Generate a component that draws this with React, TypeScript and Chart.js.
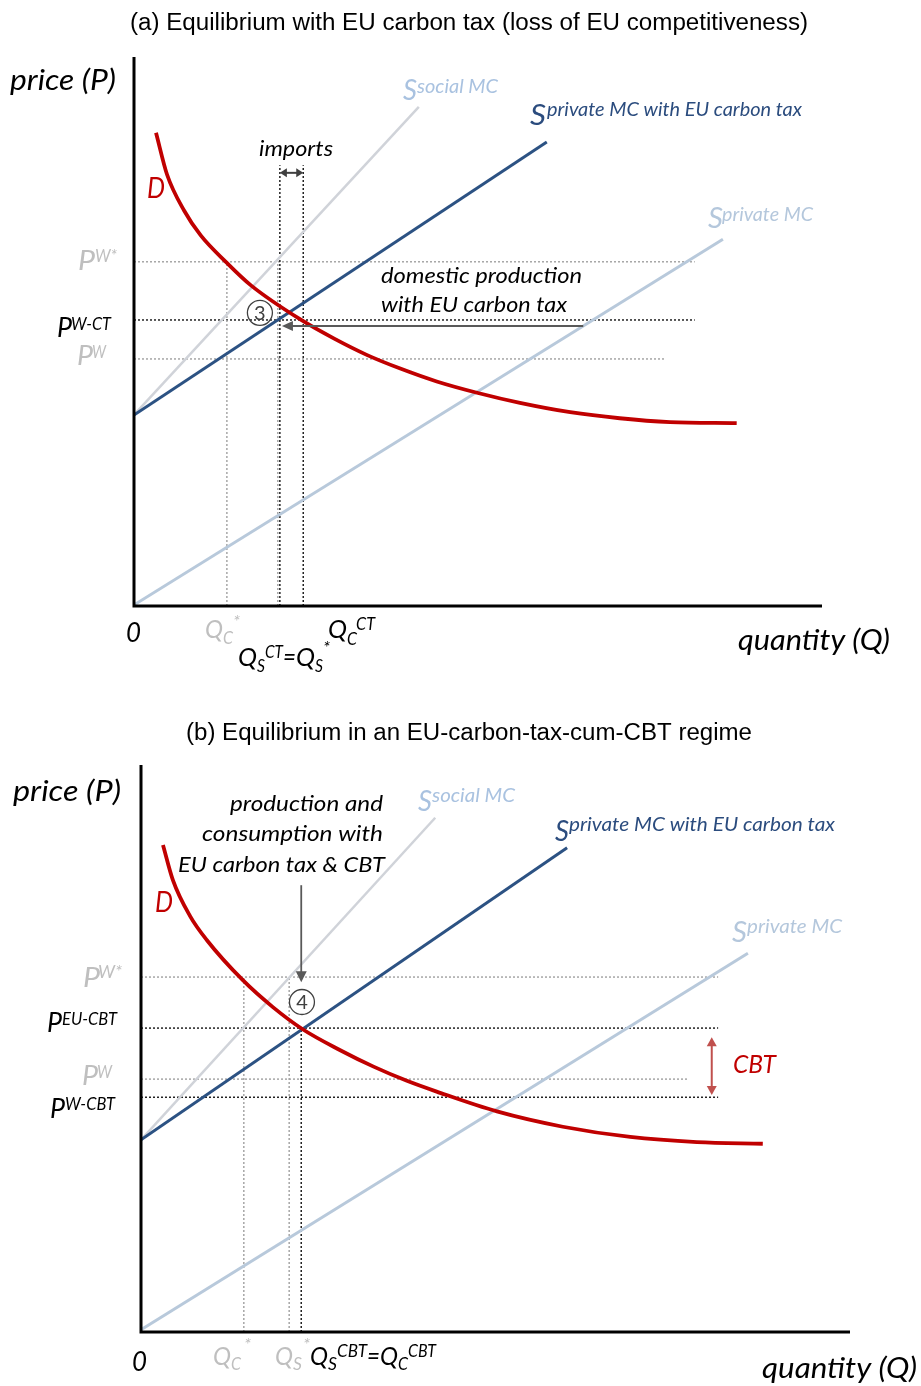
import React, { useEffect, useRef } from "react";
import { Chart, registerables } from "chart.js";
Chart.register(...registerables);

// ---------------- Panel (a) data ----------------
const qSocialA = [0, 41.4];
const pSocialA = [34.8, 90.9];
const qTaxA = [0, 60.0];
const pTaxA = [34.8, 84.5];
const qPrivA = [0, 85.6];
const pPrivA = [0.2, 66.8];
const qDemandA = [3.2, 4.8, 7.3, 9.7, 13.5, 17.0, 24.3, 29.1, 33.9, 38.8, 44.0, 50.0, 56.1, 63.4, 70.6, 77.9, 87.6];
const pDemandA = [86.2, 78.6, 72.0, 67.5, 62.5, 58.4, 52.1, 48.7, 45.7, 43.2, 40.9, 38.8, 37.0, 35.3, 34.2, 33.5, 33.3];
const priceNamesA = ["PW*", "PW-CT", "PW"];
const priceLevelsA = [62.7, 52.1, 45.0];
const priceEndsA = [81.5, 81.5, 77.2];
const qtyNamesA = ["QC*", "QS*", "QS_CT", "QC_CT"];
const qtyLevelsA = [13.5, 20.9, 21.2, 24.6];
const qtyTopsA = [62.7, 62.7, 80.3, 80.3];
const importsLevelA = 78.9;
const domesticArrowA = [65.3, 21.5, 51.0]; // from q, to q, at p
const eqPointA = [18.3, 53.4];

// ---------------- Panel (b) data ----------------
const qSocialB = [0, 41.5];
const pSocialB = [33.9, 90.7];
const qTaxB = [0, 60.1];
const pTaxB = [33.9, 85.4];
const qPrivB = [0, 85.6];
const pPrivB = [0.4, 66.8];
const qDemandB = [3.1, 4.5, 6.9, 9.3, 14.4, 18.6, 22.8, 28.1, 32.8, 37.5, 41.7, 50.2, 59.5, 69.0, 78.4, 87.7];
const pDemandB = [85.9, 79.7, 73.4, 69.1, 62.0, 57.3, 53.4, 49.7, 46.8, 44.3, 42.4, 38.9, 36.2, 34.4, 33.5, 33.2];
const priceNamesB = ["PW*", "PEU-CBT", "PW", "PW-CBT"];
const priceLevelsB = [62.6, 53.6, 44.6, 41.4];
const priceEndsB = [81.4, 81.4, 77.2, 81.4];
const qtyNamesB = ["QC*", "QS*", "Q_CBT"];
const qtyLevelsB = [14.5, 20.9, 22.6];
const qtyTopsB = [62.6, 62.6, 53.6];
const prodArrowB = [22.6, 78.8, 61.7]; // at q, from p, to p
const cbtArrowB = [80.5, 52.0, 41.8]; // at q, from p, to p
const eqPointB = [22.7, 58.2];

// ---------------- styles ----------------
const RED = "#c00000";
const DARK = "#2c5283";
const DARK_TXT = "#2b4c7e";
const SOCIAL_LINE = "#d0d3d9";
const SOCIAL_TXT = "#a9c2e0";
const PRIV_LINE = "#b8c9db";
const PRIV_TXT = "#b4c7dc";
const GRAY_TXT = "#bfbfbf";
const DOT_GRAY = "#a6a6a6";
const DOT_BLACK = "#222222";
const ARROW = "#595959";
const ITAL = '"Lato", "Open Sans", sans-serif';
const SANS = '"Liberation Sans", Arial, sans-serif';

const darkPriceA = [false, true, false];
const darkQtyA = [false, false, true, true];
const darkPriceB = [false, true, false, true];
const darkQtyB = [false, false, true];

type T = [string, number, number, number, string, number?, boolean?, string?];
// text, x, baseline y (page coords), size, color, width, italic(default true), family

const textsA: T[] = [
  ["(a) Equilibrium with EU carbon tax (loss of EU competitiveness)", 130, 30, 23, "#000", 678, false, SANS],
  ["price (P)", 10, 90, 29, "#000", 106],
  ["D", 147, 198, 28, RED, 18],
  ["S", 403, 100, 28, SOCIAL_TXT, 14],
  ["social MC", 417, 93, 20, SOCIAL_TXT, 81],
  ["S", 530, 125, 28, DARK_TXT, 16],
  ["private MC with EU carbon tax", 547, 116, 20, DARK_TXT, 255],
  ["S", 708, 228, 28, PRIV_TXT, 15],
  ["private MC", 722, 221, 20, PRIV_TXT, 91],
  ["imports", 259, 156, 21, "#000", 74],
  ["domestic production", 381, 283, 21, "#000", 201],
  ["with EU carbon tax", 381, 312, 21, "#000", 186],
  ["P", 78, 270, 27, GRAY_TXT, 17],
  ["W*", 95, 262, 17, GRAY_TXT, 22],
  ["P", 57, 337, 27, "#000", 15],
  ["W-CT", 71, 330, 17, "#000", 40],
  ["P", 77, 365, 27, GRAY_TXT, 16],
  ["W", 92, 358, 17, GRAY_TXT, 14],
  ["0", 126, 642, 27, "#000", 15],
  ["Q", 205, 638, 26, GRAY_TXT, 18],
  ["C", 223, 644, 17, GRAY_TXT, 10],
  ["*", 233, 628, 17, GRAY_TXT, 7],
  ["Q", 328, 638, 26, "#000", 19],
  ["C", 347, 645, 17, "#000", 10],
  ["CT", 356, 630, 17, "#000", 19],
  ["Q", 238, 666, 26, "#000", 19],
  ["S", 257, 672, 17, "#000", 8],
  ["CT", 265, 658, 17, "#000", 18],
  ["=", 283, 666, 26, "#000", 13],
  ["Q", 296, 666, 26, "#000", 19],
  ["S", 315, 672, 17, "#000", 8],
  ["*", 323, 654, 17, "#000", 7],
  ["quantity (Q)", 738, 650, 28, "#000", 152],
];

const textsB: T[] = [
  ["(b) Equilibrium in an EU-carbon-tax-cum-CBT regime", 186, 740, 23, "#000", 566, false, SANS],
  ["price (P)", 13, 801, 29, "#000", 108],
  ["production and", 230, 811, 21, "#000", 153],
  ["consumption with", 202, 841, 21, "#000", 181],
  ["EU carbon tax & CBT", 178, 872, 21, "#000", 207],
  ["D", 155, 912, 28, RED, 18],
  ["S", 418, 811, 28, SOCIAL_TXT, 14],
  ["social MC", 432, 802, 20, SOCIAL_TXT, 83],
  ["S", 555, 841, 28, DARK_TXT, 14],
  ["private MC with EU carbon tax", 569, 831, 20, DARK_TXT, 266],
  ["S", 732, 942, 28, PRIV_TXT, 15],
  ["private MC", 747, 933, 20, PRIV_TXT, 95],
  ["CBT", 733, 1073, 26, RED, 43],
  ["P", 83, 987, 27, GRAY_TXT, 17],
  ["W*", 98, 978, 17, GRAY_TXT, 24],
  ["P", 47, 1032, 27, "#000", 15],
  ["EU-CBT", 62, 1025, 17, "#000", 55],
  ["P", 82, 1085, 27, GRAY_TXT, 16],
  ["W", 97, 1078, 17, GRAY_TXT, 15],
  ["P", 50, 1118, 27, "#000", 15],
  ["W-CBT", 65, 1110, 17, "#000", 50],
  ["0", 132, 1371, 27, "#000", 15],
  ["Q", 213, 1365, 26, GRAY_TXT, 18],
  ["C", 231, 1370, 17, GRAY_TXT, 10],
  ["*", 244, 1351, 17, GRAY_TXT, 7],
  ["Q", 275, 1365, 26, GRAY_TXT, 18],
  ["S", 293, 1370, 17, GRAY_TXT, 9],
  ["*", 303, 1351, 17, GRAY_TXT, 7],
  ["Q", 310, 1365, 26, "#000", 18],
  ["S", 328, 1370, 17, "#000", 9],
  ["CBT", 337, 1357, 17, "#000", 30],
  ["=", 367, 1365, 26, "#000", 13],
  ["Q", 380, 1365, 26, "#000", 18],
  ["C", 398, 1370, 17, "#000", 10],
  ["CBT", 408, 1357, 17, "#000", 28],
  ["quantity (Q)", 762, 1378, 28, "#000", 155],
];

function pts(xs: number[], ys: number[]) {
  return xs.map((x, i) => ({ x, y: ys[i] }));
}

function lineDs(xs: number[], ys: number[], color: string, width: number, order: number, extra: any = {}) {
  return {
    data: pts(xs, ys),
    showLine: true,
    borderColor: color,
    backgroundColor: color,
    borderWidth: width,
    pointRadius: 0,
    fill: false,
    order,
    ...extra,
  };
}

function arrowHead(ctx: CanvasRenderingContext2D, x: number, y: number, ang: number, len: number, half: number) {
  ctx.beginPath();
  ctx.moveTo(x, y);
  ctx.lineTo(x - len * Math.cos(ang) + half * Math.sin(ang), y - len * Math.sin(ang) - half * Math.cos(ang));
  ctx.lineTo(x - len * Math.cos(ang) - half * Math.sin(ang), y - len * Math.sin(ang) + half * Math.cos(ang));
  ctx.closePath();
  ctx.fill();
}

function arrow(ctx: CanvasRenderingContext2D, x1: number, y1: number, x2: number, y2: number, color: string, both: boolean, width = 2, len = 8, half = 4.5) {
  const ang = Math.atan2(y2 - y1, x2 - x1);
  ctx.save();
  ctx.strokeStyle = color;
  ctx.fillStyle = color;
  ctx.lineWidth = width;
  ctx.beginPath();
  const sx = both ? x1 + Math.cos(ang) * len * 0.8 : x1;
  const sy = both ? y1 + Math.sin(ang) * len * 0.8 : y1;
  ctx.moveTo(sx, sy);
  ctx.lineTo(x2 - Math.cos(ang) * len * 0.8, y2 - Math.sin(ang) * len * 0.8);
  ctx.stroke();
  arrowHead(ctx, x2, y2, ang, len, half);
  if (both) arrowHead(ctx, x1, y1, ang + Math.PI, len, half);
  ctx.restore();
}

function drawText(ctx: CanvasRenderingContext2D, spec: T, top: number) {
  const [t, x, y, size, color, w, italic = true, family = ITAL] = spec;
  ctx.save();
  ctx.font = `${italic ? "italic " : ""}${size}px ${family}`;
  ctx.fillStyle = color;
  ctx.textAlign = "left";
  ctx.textBaseline = "alphabetic";
  ctx.translate(x, y - top);
  if (w) {
    const m = ctx.measureText(t).width;
    if (m > 0) ctx.scale(w / m, 1);
  }
  ctx.fillText(t, 0, 0);
  ctx.restore();
}

function circled(ctx: CanvasRenderingContext2D, x: number, y: number, label: string) {
  ctx.save();
  ctx.strokeStyle = "#404040";
  ctx.lineWidth = 1.3;
  ctx.beginPath();
  ctx.arc(x, y, 12.5, 0, Math.PI * 2);
  ctx.stroke();
  ctx.fillStyle = "#404040";
  ctx.font = `20px ${ITAL}`;
  ctx.textAlign = "center";
  ctx.textBaseline = "middle";
  ctx.fillText(label, x, y + 1);
  ctx.restore();
}

type PanelCfg = {
  top: number;
  height: number;
  padding: { left: number; right: number; top: number; bottom: number };
  datasets: any[];
  texts: T[];
  extras: (ctx: CanvasRenderingContext2D, sx: any, sy: any) => void;
};

function buildA(): PanelCfg {
  const ds: any[] = [];
  priceLevelsA.forEach((lv, i) =>
    ds.push(lineDs([0, priceEndsA[i]], [lv, lv], darkPriceA[i] ? DOT_BLACK : DOT_GRAY, 1.5, 10, { borderDash: [2, 2], label: priceNamesA[i] }))
  );
  qtyLevelsA.forEach((q, i) =>
    ds.push(lineDs([q, q], [0, qtyTopsA[i]], darkQtyA[i] ? DOT_BLACK : DOT_GRAY, 1.5, darkQtyA[i] ? 8 : 9, { borderDash: [2, 2], label: qtyNamesA[i] }))
  );
  ds.push(lineDs(qPrivA, pPrivA, PRIV_LINE, 3, 4, { label: "S private MC" }));
  ds.push(lineDs(qSocialA, pSocialA, SOCIAL_LINE, 2.5, 3, { label: "S social MC" }));
  ds.push(lineDs(qTaxA, pTaxA, DARK, 3, 2, { label: "S private MC with EU carbon tax" }));
  ds.push(lineDs(qDemandA, pDemandA, RED, 3.8, 1, { label: "D", cubicInterpolationMode: "monotone" }));
  return {
    top: 0,
    height: 700,
    padding: { left: 134, right: 99, top: 57, bottom: 94 },
    datasets: ds,
    texts: textsA,
    extras: (ctx, sx, sy) => {
      const qS = sx.getPixelForValue(qtyLevelsA[2]);
      const qC = sx.getPixelForValue(qtyLevelsA[3]);
      const yi = sy.getPixelForValue(importsLevelA);
      arrow(ctx, qS, yi, qC, yi, "#404040", true, 2, 7, 4.5);
      const yd = sy.getPixelForValue(domesticArrowA[2]);
      arrow(ctx, sx.getPixelForValue(domesticArrowA[0]), yd, sx.getPixelForValue(domesticArrowA[1]), yd, ARROW, false, 2, 11, 5);
      circled(ctx, sx.getPixelForValue(eqPointA[0]), sy.getPixelForValue(eqPointA[1]), "3");
    },
  };
}

function buildB(): PanelCfg {
  const ds: any[] = [];
  priceLevelsB.forEach((lv, i) =>
    ds.push(lineDs([0, priceEndsB[i]], [lv, lv], darkPriceB[i] ? DOT_BLACK : DOT_GRAY, 1.5, 10, { borderDash: [2, 2], label: priceNamesB[i] }))
  );
  qtyLevelsB.forEach((q, i) =>
    ds.push(lineDs([q, q], [0, qtyTopsB[i]], darkQtyB[i] ? DOT_BLACK : DOT_GRAY, 1.5, darkQtyB[i] ? 8 : 9, { borderDash: [2, 2], label: qtyNamesB[i] }))
  );
  ds.push(lineDs(qPrivB, pPrivB, PRIV_LINE, 3, 4, { label: "S private MC" }));
  ds.push(lineDs(qSocialB, pSocialB, SOCIAL_LINE, 2.5, 3, { label: "S social MC" }));
  ds.push(lineDs(qTaxB, pTaxB, DARK, 3, 2, { label: "S private MC with EU carbon tax" }));
  ds.push(lineDs(qDemandB, pDemandB, RED, 3.8, 1, { label: "D", cubicInterpolationMode: "monotone" }));
  return {
    top: 700,
    height: 686,
    padding: { left: 141, right: 71, top: 65, bottom: 54 },
    datasets: ds,
    texts: textsB,
    extras: (ctx, sx, sy) => {
      const xa = sx.getPixelForValue(prodArrowB[0]);
      arrow(ctx, xa, sy.getPixelForValue(prodArrowB[1]), xa, sy.getPixelForValue(prodArrowB[2]), ARROW, false, 1.8, 11, 5.5);
      const xc = sx.getPixelForValue(cbtArrowB[0]);
      arrow(ctx, xc, sy.getPixelForValue(cbtArrowB[1]), xc, sy.getPixelForValue(cbtArrowB[2]), "#c0504d", true, 2, 9, 5);
      circled(ctx, sx.getPixelForValue(eqPointB[0]), sy.getPixelForValue(eqPointB[1]), "4");
    },
  };
}

function Panel({ cfg }: { cfg: PanelCfg }) {
  const ref = useRef<HTMLCanvasElement | null>(null);
  useEffect(() => {
    if (!ref.current) return;
    const overlay = {
      id: "overlay" + cfg.top,
      afterDatasetsDraw(chart: any) {
        const ctx = chart.ctx as CanvasRenderingContext2D;
        const { left, right, top, bottom } = chart.chartArea;
        ctx.save();
        ctx.strokeStyle = "#000";
        ctx.lineWidth = 3;
        ctx.beginPath();
        ctx.moveTo(left, top);
        ctx.lineTo(left, bottom);
        ctx.lineTo(right, bottom);
        ctx.stroke();
        ctx.restore();
        cfg.extras(ctx, chart.scales.x, chart.scales.y);
        cfg.texts.forEach((t) => drawText(ctx, t, cfg.top));
      },
    };
    const chart = new Chart(ref.current, {
      type: "scatter",
      data: { datasets: cfg.datasets },
      options: {
        animation: false,
        responsive: false,
        maintainAspectRatio: false,
        layout: { padding: cfg.padding },
        plugins: { legend: { display: false }, tooltip: { enabled: false }, title: { display: false } },
        scales: {
          x: { type: "linear", min: 0, max: 100, display: false },
          y: { type: "linear", min: 0, max: 100, display: false },
        },
      } as any,
      plugins: [overlay],
    });
    return () => chart.destroy();
  }, [cfg]);
  return (
    <div style={{ position: "absolute", left: 0, top: cfg.top, width: 921, height: cfg.height }}>
      <canvas ref={ref} width={921} height={cfg.height} style={{ width: 921, height: cfg.height, display: "block" }} />
    </div>
  );
}

const cfgA = buildA();
const cfgB = buildB();

export default function App() {
  return (
    <div style={{ position: "absolute", left: 0, top: 0, width: 921, height: 1386, background: "#fff", overflow: "hidden" }}>
      <Panel cfg={cfgA} />
      <Panel cfg={cfgB} />
    </div>
  );
}
